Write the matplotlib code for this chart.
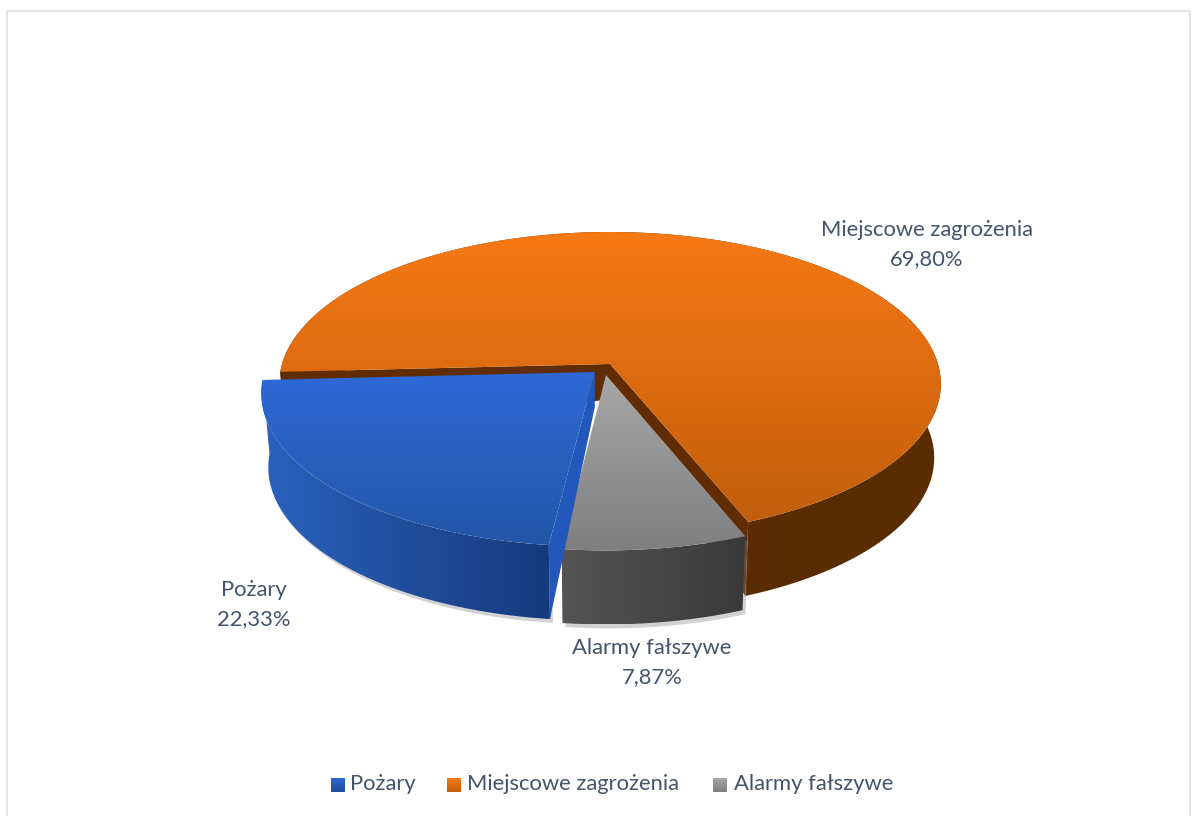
import numpy as np
import matplotlib
matplotlib.use("Agg")
import matplotlib.pyplot as plt
from matplotlib.patches import Polygon
from matplotlib.colors import LinearSegmentedColormap

# dane
labels = ["Pożary", "Miejscowe zagrożenia", "Alarmy fałszywe"]
shares = [22.33, 69.80, 7.87]
share_text = ["22,33%", "69,80%", "7,87%"]

TEXT = "#44546A"
plt.rcParams["font.family"] = ["Lato", "DejaVu Sans"]

# geometria rzutu (piksele obrazka)
CX, CY = 610, 364
RX, RY = 328, 149.3
K = 0.131
DEPTH = 74
DEPTH_APEX = 35
SHRINK = 0.98
START = 183.0


def project(u, v):
    s = 1 / (1 + K * v)
    return CX + RX * u * s, CY - RY * v * s


def arc(t0, t1, off, n=120):
    t = np.radians(np.linspace(t0, t1, n))
    return project(np.cos(t) + off[0], np.sin(t) + off[1])


def grad(ax, patch, c0, c1, vertical=True):
    # gradient przyciety do wielokata
    ax.add_patch(patch)
    patch.set_facecolor("none")
    patch.set_edgecolor("none")
    xy = patch.get_xy()
    x0, x1 = xy[:, 0].min(), xy[:, 0].max()
    y0, y1 = xy[:, 1].min(), xy[:, 1].max()
    cmap = LinearSegmentedColormap.from_list("g", [c0, c1])
    g = np.linspace(0, 1, 256)
    g = g[:, None] if vertical else g[None, :]
    im = ax.imshow(g, cmap=cmap, extent=(x0, x1, y1, y0), aspect="auto",
                   origin="upper", interpolation="bilinear", zorder=patch.get_zorder())
    im.set_clip_path(patch)


def wedge(ax, t0, t1, off, top, side, z, cut=None, shadow=False):
    ax_, ay_ = project(*off)
    x, y = arc(t0, t1, off)
    bx = CX + (x - CX) * SHRINK
    by = y + DEPTH
    side_xy = np.r_[np.c_[x, y], np.c_[bx, by][::-1]]
    if shadow:
        ax.add_patch(Polygon(side_xy + [3, 4], fc="#808080", ec="none", alpha=0.35, zorder=z))
    grad(ax, Polygon(side_xy, closed=True, zorder=z + 0.1), side[0], side[1], vertical=False)
    if cut is not None:
        # sciana przekroju przy podanym koncu luku
        for i, col in cut:
            ex, ey = x[i], y[i]
            face = [(ax_, ay_), (ex, ey), (bx[i], by[i]), (ax_, ay_ + DEPTH_APEX)]
            ax.add_patch(Polygon(face, fc=col, ec="none", zorder=z + 0.2))
    grad(ax, Polygon(np.r_[[[ax_, ay_]], np.c_[x, y]], closed=True, zorder=z + 0.3), top[0], top[1])


fig = plt.figure(figsize=(11.98, 8.16), dpi=100)
ax = fig.add_axes([0, 0, 1, 1])

# kolejnosc i katy z udzialow procentowych
sweep = [360 * s / sum(shares) for s in shares]
t_orange_end = START - sweep[1]
t_gray_end = t_orange_end - sweep[2]
t_blue_end = START + sweep[0]

wedge(ax, t_orange_end, START, (0, 0), ("#F77914", "#C25E0C"), ("#5E2F06", "#5A2C02"), 2,
      cut=[(0, "#622C02"), (-1, "#622C02")])
wedge(ax, t_gray_end, t_orange_end, (-0.012, -0.073), ("#A8A8A8", "#7F7F7F"), ("#555555", "#393939"), 3,
      shadow=True)
wedge(ax, START, t_blue_end, (-0.046, -0.053), ("#2E69D6", "#2356A8"), ("#2B62BE", "#153A7C"), 4,
      cut=[(-1, "#2258BC")], shadow=True)

ax.set_xlim(0, 1198)
ax.set_ylim(816, 0)
ax.axis("off")

# ramka
ax.plot([7, 7, 1190, 1190], [816, 10.5, 10.5, 816], color="#E3E6EC", lw=1.6, zorder=1)

# etykiety
label_pos = [(254, 590), (927, 230), (652, 648)]
for name, val, (x, y) in zip(labels, share_text, label_pos):
    ax.text(x, y, name, ha="center", va="center", fontsize=15.8, color=TEXT, zorder=6)
    ax.text(x, y + 29, val, ha="center", va="center", fontsize=15.8, color=TEXT, zorder=6)

# legenda
leg_sq = [331, 447, 713]
leg_tx = [350, 467, 734]
leg_col = [("#2E69D6", "#1F4E9E"), ("#F77914", "#C25E0C"), ("#A8A8A8", "#7F7F7F")]
for name, sx, tx, c in zip(labels, leg_sq, leg_tx, leg_col):
    sq = Polygon([(sx, 778), (sx + 14, 778), (sx + 14, 792), (sx, 792)], closed=True, zorder=5)
    grad(ax, sq, c[0], c[1])
    ax.text(tx, 784, name, ha="left", va="center", fontsize=15.8, color=TEXT, zorder=6)

ax.set_xlim(0, 1198)
ax.set_ylim(816, 0)
fig.savefig("out.png", dpi=100, facecolor="white")
